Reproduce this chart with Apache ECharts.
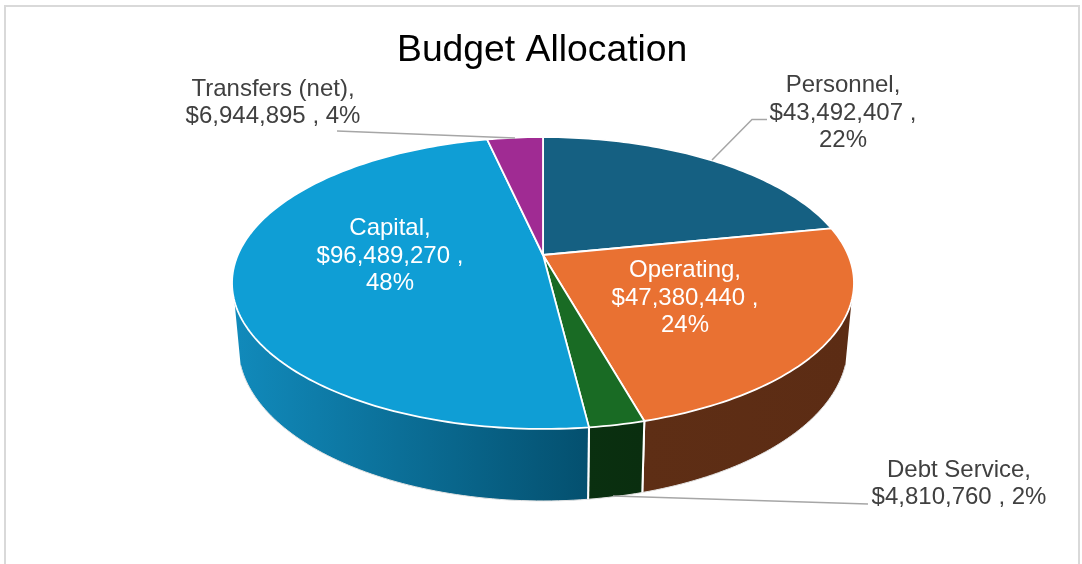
<!DOCTYPE html>
<html>
<head>
<meta charset="utf-8">
<title>Budget Allocation</title>
<script src="https://cdn.jsdelivr.net/npm/echarts@6/dist/echarts.min.js"></script>
<style>
html, body { margin: 0; padding: 0; background: #fff; }
#chart { width: 1082px; height: 564px; }
</style>
</head>
<body>
<div id="chart"></div>
<script>
var categories = ['Personnel', 'Operating', 'Debt Service', 'Capital', 'Transfers (net)'];
var budgetValues = [43492407, 47380440, 4810760, 96489270, 6944895];
// 图上标的百分比,Excel 凑够100,不能直接四舍五入
var percentLabels = [22, 24, 2, 48, 4];

var topColors = ['#156082', '#E97132', '#196B24', '#0F9ED5', '#A02B93'];
var wallColors = [
    ['#0b3346', '#0b3346'],
    ['#5e2e15', '#5c2c14'],
    ['#0a3010', '#0a2e0f'],
    ['#118abb', '#04506f'],
    ['#56174f', '#56174f']
];
// 立面渐变的左右范围
var wallGradientX = [[543, 854], [640, 850], [588, 642], [235, 588], [490, 543]];

// 文字位置,oneLine 表示金额和百分比放一行
var labelLayout = [
    { x: 843, y: 113, color: '#404040', oneLine: false },
    { x: 685, y: 298, color: '#ffffff', oneLine: false },
    { x: 959, y: 484, color: '#404040', oneLine: true },
    { x: 390, y: 256, color: '#ffffff', oneLine: false },
    { x: 273, y: 103, color: '#404040', oneLine: true }
];
var leaderLines = [
    [[712, 160], [752, 119.5], [767, 119.5]],
    [[613, 496], [868, 504]],
    [[337, 131], [515, 138]]
];

// 透视参数
var cx = 543, cy = 255;
var scaleX = 305.2, scaleY = 140.6, persp = 0.1918;
var bottomScale = 0.98, wallDrop = 61;
// 立面可见范围,两端正好是左右切线
var wallFrom = 108 * Math.PI / 180, wallTo = 252 * Math.PI / 180;

var total = 0;
for (var i = 0; i < budgetValues.length; i++) {
    total += budgetValues[i];
}

function startAngle(index) {
    var sum = 0;
    for (var i = 0; i < index; i++) {
        sum += budgetValues[i];
    }
    return sum / total * Math.PI * 2;
}

// 圆盘上的角度转屏幕坐标,从12点方向顺时针
function project(angle, isBottom) {
    var px = Math.sin(angle);
    var py = Math.cos(angle);
    var w = 1 + persp * py;
    var s = isBottom ? bottomScale : 1;
    var drop = isBottom ? wallDrop : 0;
    return [cx + s * scaleX * px / w, cy + (drop - s * scaleY * py) / w];
}

function arcPoints(a0, a1, isBottom) {
    var steps = Math.max(4, Math.ceil((a1 - a0) / 0.02));
    var pts = [];
    for (var i = 0; i <= steps; i++) {
        pts.push(project(a0 + (a1 - a0) * i / steps, isBottom));
    }
    return pts;
}

function renderWall(params, api) {
    var idx = params.dataIndex;
    var a0 = startAngle(idx);
    var a1 = a0 + api.value(0) / total * Math.PI * 2;
    var from = Math.max(a0, wallFrom);
    var to = Math.min(a1, wallTo);
    // 背面的扇区看不到立面
    if (from >= to) {
        return null;
    }
    var upper = arcPoints(from, to, false);
    var lower = arcPoints(from, to, true);
    var gx = wallGradientX[idx];
    var children = [{
        type: 'polygon',
        shape: { points: upper.concat(lower.slice().reverse()) },
        style: {
            fill: new echarts.graphic.LinearGradient(gx[0], 0, gx[1], 0, [
                { offset: 0, color: wallColors[idx][0] },
                { offset: 1, color: wallColors[idx][1] }
            ], true)
        }
    }, {
        type: 'polyline',
        shape: { points: lower },
        style: { fill: null, stroke: '#e4e4e4', lineWidth: 1 }
    }];
    // 分界的白线,切线那头不画
    if (from === a0) {
        children.push({
            type: 'polyline',
            shape: { points: [upper[0], lower[0]] },
            style: { fill: null, stroke: '#ffffff', lineWidth: 2 }
        });
    }
    if (to === a1) {
        children.push({
            type: 'polyline',
            shape: { points: [upper[upper.length - 1], lower[lower.length - 1]] },
            style: { fill: null, stroke: '#ffffff', lineWidth: 2 }
        });
    }
    return { type: 'group', children: children };
}

function renderTop(params, api) {
    var idx = params.dataIndex;
    var a0 = startAngle(idx);
    var a1 = a0 + api.value(0) / total * Math.PI * 2;
    var pts = [[cx, cy]].concat(arcPoints(a0, a1, false));
    return {
        type: 'polygon',
        shape: { points: pts },
        style: {
            fill: topColors[idx],
            stroke: '#ffffff',
            lineWidth: 1.8,
            lineJoin: 'round'
        }
    };
}

function labelText(idx) {
    var money = '$' + budgetValues[idx].toLocaleString('en-US');
    var sep = labelLayout[idx].oneLine ? ' , ' : ' ,\n';
    return categories[idx] + ',\n' + money + sep + percentLabels[idx] + '%';
}

function renderLabel(params, api) {
    var idx = params.dataIndex;
    return {
        type: 'text',
        style: {
            x: labelLayout[idx].x,
            y: labelLayout[idx].y,
            text: labelText(idx),
            fill: labelLayout[idx].color,
            font: '24px "Liberation Sans", Arial, sans-serif',
            lineHeight: 27.7,
            align: 'center',
            verticalAlign: 'middle'
        }
    };
}

function renderLeader(params, api) {
    return {
        type: 'polyline',
        shape: { points: leaderLines[params.dataIndex] },
        style: { fill: null, stroke: '#a6a6a6', lineWidth: 1.5 }
    };
}

var myChart = echarts.init(document.getElementById('chart'));
var option = {
    backgroundColor: '#ffffff',
    animation: false,
    title: {
        text: 'Budget Allocation',
        left: 392,
        top: 27,
        textStyle: {
            color: '#000000',
            fontFamily: '"Liberation Sans", Arial, sans-serif',
            fontSize: 37.3,
            fontWeight: 'normal'
        }
    },
    graphic: [{
        type: 'rect',
        shape: { x: 5, y: 6, width: 1074, height: 620 },
        style: { fill: 'none', stroke: '#d9d9d9', lineWidth: 2 },
        silent: true
    }],
    series: [
        { type: 'custom', coordinateSystem: 'none', silent: true, z: 2, data: budgetValues, renderItem: renderWall },
        { type: 'custom', coordinateSystem: 'none', silent: true, z: 3, data: budgetValues, renderItem: renderTop },
        { type: 'custom', coordinateSystem: 'none', silent: true, z: 4, data: leaderLines.map(function () { return 1; }), renderItem: renderLeader },
        { type: 'custom', coordinateSystem: 'none', silent: true, z: 5, data: budgetValues, renderItem: renderLabel }
    ]
};
myChart.setOption(option);
</script>
</body>
</html>
